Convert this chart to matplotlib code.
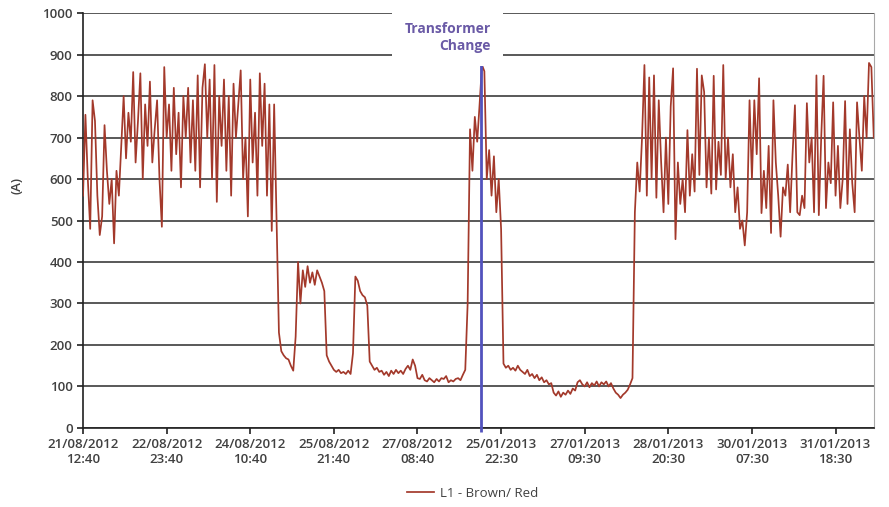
import matplotlib
matplotlib.use("Agg")
import matplotlib.pyplot as plt
import numpy as np

# hourly current readings (A), two recording periods joined at the transformer change
current_a = [
    560, 755, 600, 480, 790, 740, 560, 465, 510, 730,
    620, 540, 600, 445, 620, 560, 680, 800, 650, 760,
    690, 858, 640, 740, 855, 600, 780, 680, 835, 640,
    720, 790, 600, 485, 870, 700, 780, 620, 820, 660,
    760, 580, 800, 700, 820, 640, 790, 620, 850, 580,
    820, 877, 700, 840, 600, 875, 545, 800, 680, 840,
    620, 800, 560, 830, 700, 780, 862, 600, 700, 510,
    840, 640, 760, 560, 855, 680, 830, 560, 780, 475,
    780,
    500, 230, 185, 175, 168, 165, 150, 138, 220, 400,
    300, 380, 340, 390, 350, 375, 345, 380, 365, 350,
    330, 175, 160, 150, 140, 135, 140, 132, 135, 130,
    138, 130, 180, 365, 355, 330, 320, 315, 295, 160,
    150, 140, 145, 135, 138, 128, 135, 125, 138, 130,
    140, 132, 138, 130, 142, 150, 140, 165, 150, 120,
    118, 128, 115, 112, 120, 115, 110, 118, 112, 120,
    118, 125, 110, 115, 112, 118, 120, 115, 128, 140,
    300, 720, 620, 750, 690, 780, 875, 860, 600, 670,
    560, 655, 520, 600, 480, 155, 145, 150, 140, 145,
    138, 150, 140, 135, 130, 140, 125, 130, 120, 128,
    115, 122, 110, 115, 105, 108, 85, 78, 88, 75,
    85, 80, 90, 82, 95, 90, 110, 115, 105, 100,
    110, 98, 108, 102, 112, 100, 110, 105, 112, 100,
    108, 95, 85, 80, 72, 80, 85, 92, 105, 120,
    520, 640, 570, 700, 875, 560, 845, 600, 850, 555,
    790, 640, 520, 700, 540, 775, 867, 455, 640, 540,
    600, 520, 718, 560, 660, 570, 866, 610, 850, 810,
    580, 700, 565, 849, 575, 690, 610, 875, 600, 700,
    580, 660, 520, 580, 480, 500, 440, 520, 790, 600,
    790, 660, 843, 518, 620, 530, 680, 470, 790, 640,
    560, 461, 580, 560, 635, 520, 660, 778, 520, 513,
    560, 530, 783, 640, 700, 520, 850, 513, 700, 849,
    530, 640, 590, 785, 560, 680, 530, 600, 788, 540,
    720, 590, 520, 785, 700, 620, 800, 700, 880, 870, 700,
]

tick_labels = [
    "21/08/2012\n12:40", "22/08/2012\n23:40", "24/08/2012\n10:40",
    "25/08/2012\n21:40", "27/08/2012\n08:40", "25/01/2013\n22:30",
    "27/01/2013\n09:30", "28/01/2013\n20:30", "30/01/2013\n07:30",
    "31/01/2013\n18:30",
]
tick_step = 35          # hours between labels
change_at = 166.5       # sample index of the transformer change
change_top = 875

plt.rcParams['font.family'] = ['Open Sans', 'DejaVu Sans']

fig = plt.figure(figsize=(8.89, 5.07), dpi=100)
ax = fig.add_axes([0.0934, 0.156, 0.890, 0.818])

x = np.arange(len(current_a))
ax.plot(x, current_a, color='#a3392b', lw=1.25, label='L1 - Brown/ Red', zorder=3)
ax.vlines(change_at, -10, change_top, color='#5252bd', lw=2.0, zorder=4, clip_on=False)

ax.set_xlim(0, len(current_a) - 0.8)
ax.set_ylim(0, 1000)
ax.set_yticks(np.arange(0, 1001, 100))
ax.set_xticks(np.arange(len(tick_labels)) * tick_step)
ax.set_xticklabels(tick_labels)

ax.yaxis.grid(True, color='#3c3c3c', lw=1.2)
ax.set_axisbelow(True)
ax.spines['top'].set_visible(False)
ax.spines['right'].set_color('#a8a8a8')
ax.spines['left'].set_color('#202020')
ax.spines['bottom'].set_color('#202020')
ax.spines['left'].set_linewidth(1.2)
ax.spines['bottom'].set_linewidth(1.2)
ax.tick_params(axis='both', colors='#202020', length=4, width=1.2,
               labelcolor='#404040', labelsize=9.5)
ax.tick_params(axis='x', pad=3)
for lab in ax.get_xticklabels() + ax.get_yticklabels():
    lab.set_fontweight('semibold')

ax.text(170.6, 978, "Transformer\nChange", ha='right', va='top',
        color='#6a5aa6', fontsize=10, fontweight='bold', linespacing=1.25,
        zorder=5, bbox=dict(facecolor='white', edgecolor='none', pad=9))

fig.text(17 / 889, 1 - 186 / 507, "(A)", rotation=90, ha='center', va='center',
         fontsize=9.5, color='#404040', fontweight='semibold')

fig.legend(loc='center', bbox_to_anchor=(0.532, 0.027), frameon=False,
           fontsize=9.5, handlelength=2.0, handletextpad=0.5, labelcolor='#404040')

fig.savefig('out.png', dpi=100, facecolor='white')
